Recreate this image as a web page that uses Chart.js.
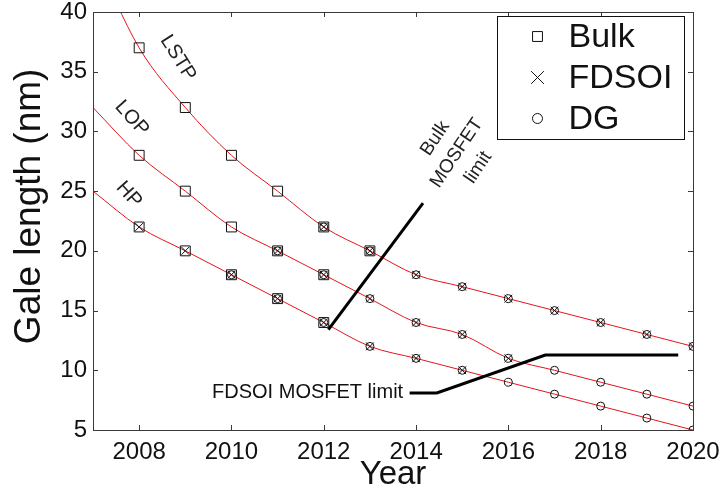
<!DOCTYPE html>
<html>
<head>
<meta charset="utf-8">
<script src="https://cdn.jsdelivr.net/npm/chart.js@4/dist/chart.umd.min.js"></script>
<style>
  html, body { margin: 0; padding: 0; background: #fff; }
  canvas { display: block; }
</style>
</head>
<body>
<canvas id="c" width="720" height="498"></canvas>
<script>
// Gate length roadmap per technology node
const years = [2007, 2008, 2009, 2010, 2011, 2012, 2013, 2014, 2015, 2016, 2017, 2018, 2019, 2020];
const lstp  = [45, 37, 32, 28, 25, 22, 20, 18, 17, 16, 15, 14, 13, 12];
const lop   = [32, 28, 25, 22, 20, 18, 16, 14, 13, 11, 10,  9,  8,  7];
const hp    = [25, 22, 20, 18, 16, 14, 12, 11, 10,  9,  8,  7,  6,  5];
const nodeNames = ['LSTP', 'LOP', 'HP'];

// Years in which each device type covers a node (order: LSTP, LOP, HP)
const bulkFrom  = [2008, 2008, 2008];
const bulkTo    = [2013, 2012, 2012];
const fdsoiFrom = [2012, 2011, 2008];
const fdsoiTo   = [2020, 2016, 2015];
const dgFrom    = [2012, 2011, 2010];
const dgTo      = [2020, 2020, 2020];

// Device limit boundaries
const bulkLimitX  = [2012.1, 2014.15];
const bulkLimitY  = [13.4, 24.0];
const fdsoiLimitX = [2013.86, 2014.45, 2016.8, 2019.68];
const fdsoiLimitY = [8.1, 8.1, 11.27, 11.27];

const xTicks = [2008, 2010, 2012, 2014, 2016, 2018, 2020];
const yTicks = [5, 10, 15, 20, 25, 30, 35, 40];

const FONT = "'Liberation Sans', Arial, Helvetica, sans-serif";
const series = [lstp, lop, hp];

function toPoints(xs, ys) { return xs.map((x, i) => ({ x: x, y: ys[i] })); }
function pick(from, to) {
  const pts = [];
  series.forEach((s, k) => {
    years.forEach((yr, i) => {
      if (yr >= from[k] && yr <= to[k]) pts.push({ x: yr, y: s[i] });
    });
  });
  return pts;
}

const curveDatasets = series.map((s, k) => ({
  label: nodeNames[k],
  data: toPoints(years, s),
  showLine: true,
  borderColor: '#e3151b',
  borderWidth: 1,
  pointRadius: 0,
  cubicInterpolationMode: 'monotone',
  order: 5
}));

const limitStyle = { showLine: true, borderColor: '#000', borderWidth: 3, pointRadius: 0, tension: 0, order: 4 };

const markerBase = { showLine: false, borderColor: '#111', backgroundColor: 'rgba(0,0,0,0)', pointBorderWidth: 1, borderWidth: 1 };

const bulkSet  = Object.assign({ label: 'Bulk',  data: pick(bulkFrom, bulkTo),   pointStyle: 'rect',     pointRadius: 7,   order: 1, legendRadius: 7 }, markerBase);
const fdsoiSet = Object.assign({ label: 'FDSOI', data: pick(fdsoiFrom, fdsoiTo), pointStyle: 'crossRot', pointRadius: 5.5, order: 0, legendRadius: 9 }, markerBase);
const dgSet    = Object.assign({ label: 'DG',    data: pick(dgFrom, dgTo),       pointStyle: 'circle',   pointRadius: 4,   order: 2, legendRadius: 5 }, markerBase);
const markerSets = [bulkSet, fdsoiSet, dgSet];

// Box, inward ticks, axis title, node labels, limit captions and legend
const decorations = {
  id: 'decorations',
  afterDatasetsDraw(chart) {
    const ctx = chart.ctx;
    const a = chart.chartArea;
    const xs = chart.scales.x, ys = chart.scales.y;
    ctx.save();

    // frame
    ctx.strokeStyle = '#3a3a3a';
    ctx.lineWidth = 1;
    ctx.strokeRect(Math.round(a.left) + 0.5, Math.round(a.top) + 0.5,
                   Math.round(a.right - a.left), Math.round(a.bottom - a.top));
    const tl = 5;
    ctx.beginPath();
    xs.ticks.forEach(t => {
      const px = Math.round(xs.getPixelForValue(t.value)) + 0.5;
      ctx.moveTo(px, a.bottom); ctx.lineTo(px, a.bottom - tl);
      ctx.moveTo(px, a.top);    ctx.lineTo(px, a.top + tl);
    });
    ys.ticks.forEach(t => {
      const py = Math.round(ys.getPixelForValue(t.value)) + 0.5;
      ctx.moveTo(a.left, py);  ctx.lineTo(a.left + tl, py);
      ctx.moveTo(a.right, py); ctx.lineTo(a.right - tl, py);
    });
    ctx.stroke();

    // vertical axis title
    ctx.save();
    ctx.translate(30, a.top + (a.bottom - a.top) * 0.465);
    ctx.rotate(-Math.PI / 2);
    ctx.font = '37px ' + FONT;
    ctx.fillStyle = '#111';
    ctx.textAlign = 'center';
    ctx.textBaseline = 'middle';
    ctx.fillText('Gale length (nm)', 0, 0);
    ctx.restore();

    // rotated text helper
    function rotText(lines, x, y, deg, size, gap) {
      ctx.save();
      ctx.translate(xs.getPixelForValue(x), ys.getPixelForValue(y));
      ctx.rotate(deg * Math.PI / 180);
      ctx.font = size + 'px ' + FONT;
      ctx.fillStyle = '#222';
      ctx.textAlign = 'center';
      ctx.textBaseline = 'middle';
      const n = lines.length;
      lines.forEach((s, i) => ctx.fillText(s, 0, (i - (n - 1) / 2) * gap));
      ctx.restore();
    }
    rotText(['LSTP'], 2008.84, 36.15, 58, 20, 0);
    rotText(['LOP'], 2007.84, 31.1, 48, 20, 0);
    rotText(['HP'], 2007.78, 24.7, 48, 20, 0);
    rotText(['Bulk', 'MOSFET', 'limit'], 2014.88, 28.2, -56, 19, 26);

    ctx.font = '20px ' + FONT;
    ctx.fillStyle = '#111';
    ctx.textAlign = 'right';
    ctx.textBaseline = 'middle';
    ctx.fillText('FDSOI MOSFET limit', xs.getPixelForValue(2013.72), ys.getPixelForValue(8.15));

    // legend
    const bw = 187, bh = 123;
    const bx = Math.round(a.right - 9 - bw) + 0.5, by = Math.round(a.top + 4) + 0.5;
    ctx.fillStyle = '#fff';
    ctx.fillRect(bx, by, bw, bh);
    ctx.strokeStyle = '#111';
    ctx.lineWidth = 1;
    ctx.strokeRect(bx, by, bw, bh);
    ctx.font = '34px ' + FONT;
    ctx.textAlign = 'left';
    ctx.textBaseline = 'middle';
    markerSets.forEach((ds, i) => {
      const cy = by + 20 + i * 41;
      ctx.strokeStyle = '#111';
      ctx.fillStyle = 'rgba(0,0,0,0)';
      ctx.lineWidth = 1;
      Chart.helpers.drawPoint(ctx, { pointStyle: ds.pointStyle, radius: ds.legendRadius, borderWidth: 1, rotation: 0 }, bx + 40, cy);
      ctx.fillStyle = '#111';
      ctx.fillText(ds.label, bx + 71, cy + 1);
    });
    ctx.restore();
  }
};

new Chart(document.getElementById('c'), {
  type: 'scatter',
  data: {
    datasets: [
      ...curveDatasets,
      Object.assign({ label: 'Bulk MOSFET limit', data: toPoints(bulkLimitX, bulkLimitY) }, limitStyle),
      Object.assign({ label: 'FDSOI MOSFET limit', data: toPoints(fdsoiLimitX, fdsoiLimitY) }, limitStyle),
      ...markerSets
    ]
  },
  options: {
    responsive: false,
    animation: false,
    devicePixelRatio: 1,
    layout: { padding: { top: 12, right: 27, left: 0, bottom: 0 } },
    plugins: { legend: { display: false }, tooltip: { enabled: false } },
    scales: {
      x: {
        type: 'linear',
        min: 2007, max: 2020,
        afterBuildTicks: s => { s.ticks = xTicks.map(v => ({ value: v })); },
        afterFit: s => { s.height = 68; s.paddingLeft = 0; s.paddingRight = 0; },
        grid: { display: false, drawTicks: false },
        border: { display: false },
        ticks: { font: { family: FONT, size: 24 }, color: '#111', padding: 8, maxRotation: 0, callback: v => String(v) },
        title: { display: true, text: 'Year', font: { family: FONT, size: 33 }, color: '#111', padding: { top: 0, bottom: 3 } }
      },
      y: {
        type: 'linear',
        min: 5, max: 40,
        afterBuildTicks: s => { s.ticks = yTicks.map(v => ({ value: v })); },
        afterFit: s => { s.width = 93; s.paddingTop = 0; s.paddingBottom = 0; },
        grid: { display: false, drawTicks: false },
        border: { display: false },
        ticks: { font: { family: FONT, size: 24 }, color: '#111', padding: 6, callback: v => String(v) }
      }
    }
  },
  plugins: [decorations]
});
</script>
</body>
</html>
